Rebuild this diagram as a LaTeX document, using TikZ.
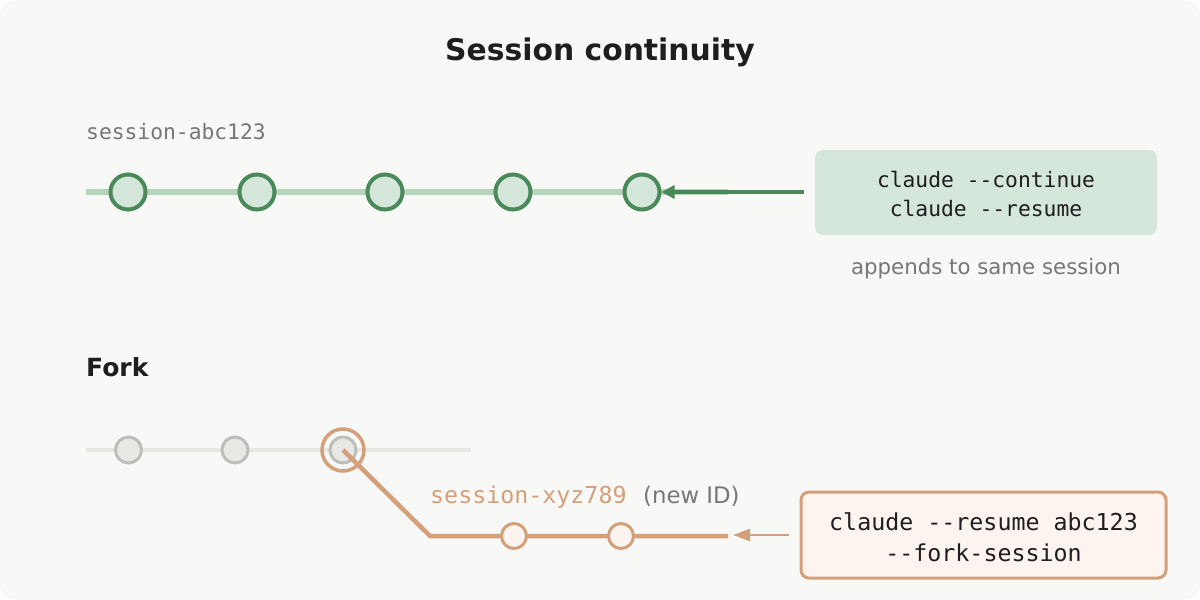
\documentclass[tikz,border=0pt]{standalone}
\usepackage{fontspec}
\setmainfont{DejaVu Sans}
\newfontfamily\monof{DejaVu Sans Mono}
\usetikzlibrary{arrows.meta}
\definecolor{bgc}{HTML}{F8F8F6}
\definecolor{gdark}{HTML}{4A8A5A}
\definecolor{glight}{HTML}{B4D5BA}
\definecolor{gfill}{HTML}{D5E6DA}
\definecolor{orng}{HTML}{D4A07A}
\definecolor{ofill}{HTML}{FDF4F0}
\definecolor{gtext}{HTML}{777777}
\definecolor{grayline}{HTML}{E6E6E3}
\definecolor{graystroke}{HTML}{BDBDBB}
\definecolor{grayfill}{HTML}{E8E8E5}
\definecolor{ink}{HTML}{1E1E1E}
\tikzset{
  gnode/.style={circle, draw=gdark, fill=gfill, line width=4pt, minimum size=35pt, inner sep=0pt},
  graynode/.style={circle, draw=graystroke, fill=grayfill, line width=3pt, minimum size=26pt, inner sep=0pt},
  onode/.style={circle, draw=orng, fill=ofill, line width=3pt, minimum size=25pt, inner sep=0pt},
  ring/.style={circle, draw=orng, line width=3.5pt, minimum size=42pt, inner sep=0pt},
  lbl/.style={inner sep=0pt, anchor=base},
}
\begin{document}
\begin{tikzpicture}[x=1pt,y=-1pt]
\useasboundingbox (0,0) rectangle (1200,600);
\fill[white] (0,0) rectangle (1200,600);
\fill[bgc, rounded corners=16pt] (0,0) rectangle (1200,600);

% title
\node[lbl, font=\fontsize{29.8}{33}\selectfont\bfseries, text=ink] (title) at (600,60) {Session continuity};

% top session
\node[lbl, anchor=base west, font=\monof\fontsize{21.3}{24}\selectfont, text=gtext] (sid) at (86,139) {session-abc123};
\coordinate (tl0) at (86,192);
\coordinate (tl1) at (728,192);
\draw[glight, line width=6pt] (tl0) -- (tl1);
\node[gnode] (g1) at (128,192) {};
\node[gnode] (g2) at (257,192) {};
\node[gnode] (g3) at (385,192) {};
\node[gnode] (g4) at (513,192) {};
\node[gnode] (g5) at (642,192) {};

\node[fill=gfill, rounded corners=8pt, minimum width=342pt, minimum height=85pt, inner sep=0pt] (cbox) at (986,192.5) {};
\node[lbl, font=\monof\fontsize{21.3}{24}\selectfont, text=ink] (c1) at (986,187) {claude --continue};
\node[lbl, font=\monof\fontsize{21.3}{24}\selectfont, text=ink] (c2) at (986,216) {claude --resume};
\coordinate (atail) at (804,192);
\draw[gdark, line width=3.5pt, -{Triangle[length=13pt,width=13pt]}] (atail) -- (g5.east);
\node[lbl, font=\fontsize{21.3}{24}\selectfont, text=gtext] (app) at (986,274) {appends to same session};

% fork
\node[lbl, anchor=base west, font=\fontsize{25}{28}\selectfont\bfseries, text=ink] (fork) at (86,376) {Fork};
\coordinate (bl0) at (86,450);
\coordinate (bl1) at (471,450);
\draw[grayline, line width=4pt] (bl0) -- (bl1);
\node[graynode] (p1) at (128.5,450) {};
\node[graynode] (p2) at (235,450) {};
\node[graynode] (p3) at (343,450) {};
\node[ring] (r3) at (343,450) {};

\coordinate (bend) at (430,536);
\coordinate (oend) at (728,536);
\draw[orng, line width=4.5pt] (p3.center) -- (bend) -- (oend);
\node[onode] (o1) at (514,536) {};
\node[onode] (o2) at (621,536) {};

\node[lbl, anchor=base west, font=\monof\fontsize{23.3}{26}\selectfont, text=orng] (sid2) at (430,503) {session-xyz789};
\node[lbl, anchor=base west, font=\fontsize{22.8}{26}\selectfont, text=gtext] (newid) at (643,503) {(new ID)};

\node[draw=orng, fill=ofill, line width=3pt, rounded corners=8pt, minimum width=365pt, minimum height=86pt, inner sep=0pt] (fbox) at (983.5,535) {};
\node[lbl, font=\monof\fontsize{23.3}{26}\selectfont, text=ink] (f1) at (983.5,530) {claude --resume abc123};
\node[lbl, font=\monof\fontsize{23.3}{26}\selectfont, text=ink] (f2) at (983.5,561) {--fork-session};
\draw[orng, line width=2.5pt, -{Triangle[length=17pt,width=12pt]}] (fbox.west) ++(-11pt,0) coordinate (ftail) -- (733,535);
\end{tikzpicture}
\end{document}
